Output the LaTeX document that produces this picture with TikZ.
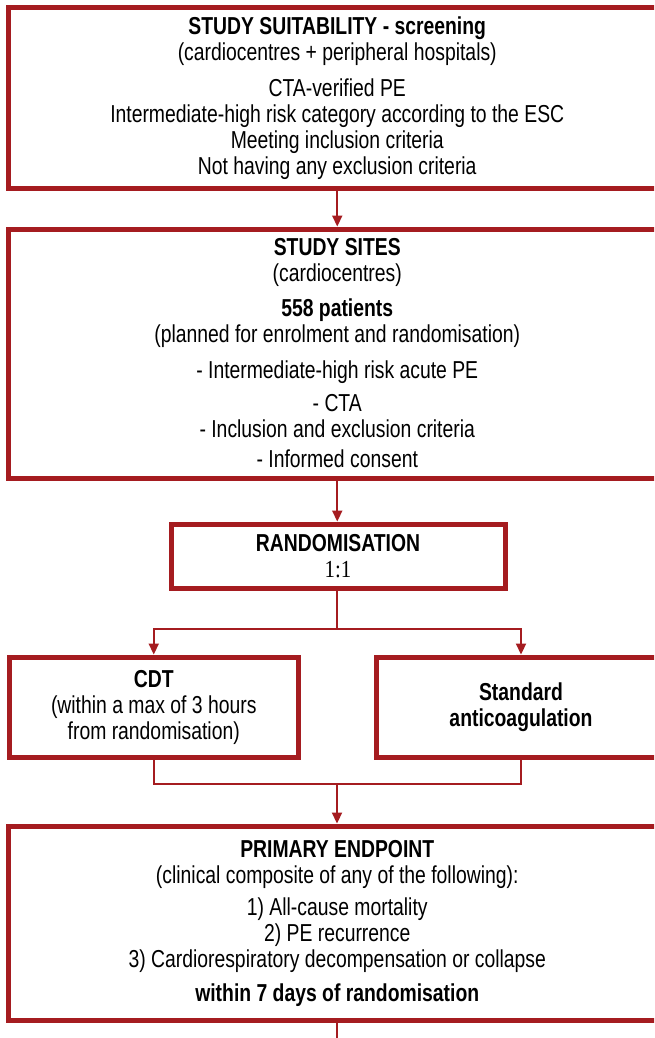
\documentclass[tikz,border=0pt]{standalone}
\usepackage{fontspec}
\setmainfont{Liberation Sans}[FakeStretch=0.79]
\newfontfamily\serifnum{Liberation Serif}[FakeStretch=0.85]
\usetikzlibrary{arrows.meta}
\definecolor{dred}{RGB}{165,28,32}
\begin{document}
\begin{tikzpicture}[x=1pt,y=-1pt,
  box/.style={draw=dred, line width=5pt, align=center, inner sep=0pt,
    font=\fontsize{24.5}{26}\selectfont, text=black},
  conn/.style={draw=dred, line width=2.2pt},
  arr/.style={conn, -{Triangle[width=10pt,length=11pt]}}]
\useasboundingbox (0,0) rectangle (654,1038);
\clip (0,0) rectangle (654,1038);
\fill[white] (0,0) rectangle (654,1038);

\node[box, minimum width=657.5pt, minimum height=181pt] (suit) at (337.25,98) {%
\textbf{STUDY SUITABILITY - screening}\\
(cardiocentres + peripheral hospitals)\\[10pt]
CTA-verified PE\\
Intermediate-high risk category according to the ESC\\
Meeting inclusion criteria\\
Not having any exclusion criteria};

\node[box, minimum width=657.5pt, minimum height=249pt] (sites) at (337.25,353.5) {%
\textbf{STUDY SITES}\\
(cardiocentres)\\[9pt]
\textbf{558 patients}\\
(planned for enrolment and randomisation)\\[10pt]
- Intermediate-high risk acute PE\\[7pt]
- CTA\\
- Inclusion and exclusion criteria\\[4pt]
- Informed consent};

\node[box, minimum width=334pt, minimum height=64.5pt] (rand) at (338,556.25) {%
\textbf{RANDOMISATION}\\
{\serifnum 1:1}};

\node[box, minimum width=288.5pt, minimum height=100pt] (cdt) at (153.75,707) {%
\textbf{CDT}\\
(within a max of 3 hours\\
from randomisation)};

\node[box, minimum width=289pt, minimum height=100pt] (std) at (521,707) {%
\textbf{Standard}\\
\textbf{anticoagulation}};

\node[box, minimum width=657.5pt, minimum height=194pt] (prim) at (337.25,923) {%
\textbf{PRIMARY ENDPOINT}\\
(clinical composite of any of the following):\\[6pt]
1) All-cause mortality\\
2) PE recurrence\\
3) Cardiorespiratory decompensation or collapse\\[8pt]
\textbf{within 7 days of randomisation}};

\coordinate (split) at (337,629);
\coordinate (merge) at (337,784);
\coordinate (tail) at (337,1045);

\draw[arr] (suit.south) -- (sites.north);
\draw[arr] (sites.south) -- (sites.south |- rand.north);
\draw[conn] (rand.south -| split) -- (split);
\draw[arr] (split) -| (cdt.north);
\draw[arr] (split) -| (std.north);
\draw[conn] (cdt.south) |- (merge) -| (std.south);
\draw[arr] (merge) -- (merge |- prim.north);
\draw[conn] (prim.south -| tail) -- (tail);
\end{tikzpicture}
\end{document}
